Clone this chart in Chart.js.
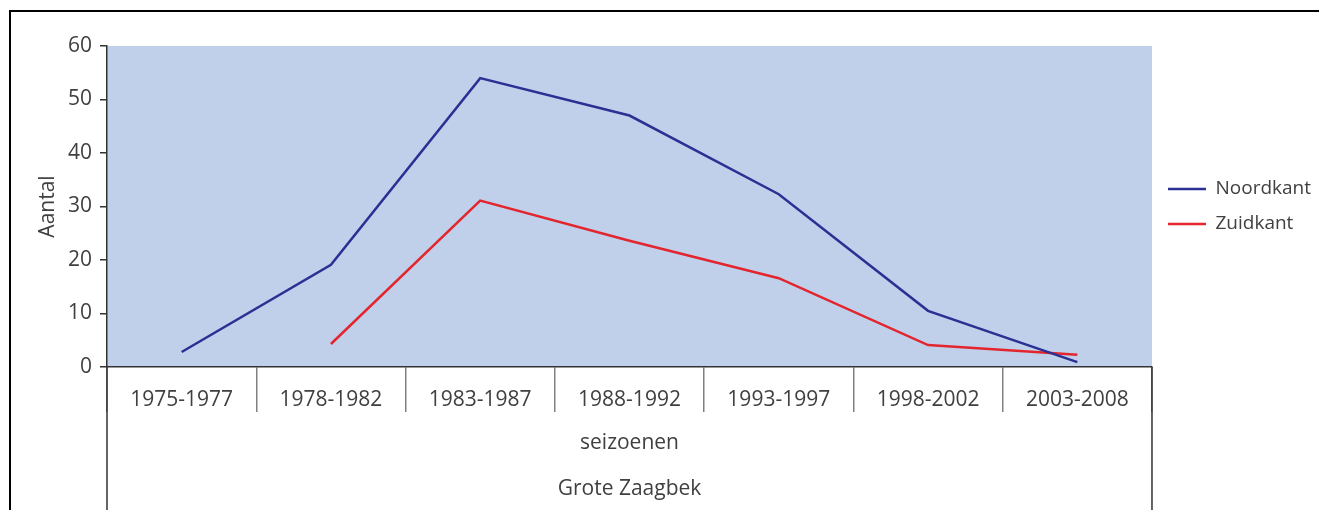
<!DOCTYPE html>
<html>
<head>
<meta charset="utf-8">
<script src="https://cdn.jsdelivr.net/npm/chart.js@4.4.1/dist/chart.umd.min.js"></script>
<style>
  html, body { margin: 0; padding: 0; background: #fff; }
  #frame {
    position: absolute; left: 9px; top: 10px;
    width: 1310px; height: 500px;
    border-left: 2px solid #000; border-top: 2px solid #000;
  }
  #wrap { position: absolute; left: 0; top: 0; width: 1308px; height: 498px; }
</style>
</head>
<body>
<div id="frame"><div id="wrap"><canvas id="myChart"></canvas></div></div>
<script>
let seizoenen = ['1975-1977', '1978-1982', '1983-1987', '1988-1992', '1993-1997', '1998-2002', '2003-2008']
let noordkant = [2.8, 19.1, 54.0, 47.0, 32.3, 10.5, 0.9]
let zuidkant = [null, 4.3, 31.1, 23.6, 16.6, 4.1, 2.3]
let yTicks = [0, 10, 20, 30, 40, 50, 60]

let textColor = '#404040'
let fontFam = '"Open Sans", "DejaVu Sans", sans-serif'

// lange lijnen links en rechts onder de as
let edgeLines = {
  id: 'edgeLines',
  afterDraw(chart) {
    let x = chart.scales.x
    let c = chart.ctx
    c.save()
    c.strokeStyle = '#333'
    c.lineWidth = 1.5
    c.beginPath()
    c.moveTo(x.left, chart.chartArea.bottom)
    c.lineTo(x.left, chart.height)
    c.moveTo(x.right, chart.chartArea.bottom)
    c.lineTo(x.right, chart.height)
    c.stroke()
    c.restore()
  }
}

let plotBg = {
  id: 'plotBg',
  beforeDraw(chart) {
    let a = chart.chartArea
    chart.ctx.save()
    chart.ctx.fillStyle = '#c0d0eb'
    chart.ctx.fillRect(a.left, a.top, a.right - a.left, a.bottom - a.top)
    chart.ctx.restore()
  }
}

var ctx = document.getElementById('myChart')
var myLineChart = new Chart(ctx, {
  type: 'line',
  data: {
    labels: seizoenen,
    datasets: [{
      label: 'Noordkant',
      data: noordkant,
      borderColor: '#2b3092',
      backgroundColor: '#2b3092',
      borderWidth: 2.5,
      pointRadius: 0,
      tension: 0
    }, {
      label: 'Zuidkant',
      data: zuidkant,
      borderColor: '#e3262e',
      backgroundColor: '#e3262e',
      borderWidth: 2.5,
      pointRadius: 0,
      tension: 0
    }]
  },
  plugins: [plotBg, edgeLines],
  options: {
    responsive: true,
    maintainAspectRatio: false,
    animation: false,
    layout: { padding: { top: 34, left: 0, right: -2, bottom: 0 } },
    plugins: {
      tooltip: { enabled: false },
      legend: {
        position: 'right',
        fullSize: false,
        labels: {
          usePointStyle: true,
          pointStyle: 'line',
          pointStyleWidth: 38,
          padding: 16,
          color: textColor,
          font: { family: fontFam, size: 19 }
        }
      }
    },
    scales: {
      x: {
        offset: true,
        afterFit: function(scale) { scale.height = 143 },
        border: { color: '#333', width: 1.5 },
        grid: {
          offset: true,
          drawOnChartArea: false,
          tickLength: 45,
          color: '#808080',
          lineWidth: 1.5
        },
        ticks: {
          padding: -25,
          color: textColor,
          maxRotation: 0,
          font: { family: fontFam, size: 21 }
        },
        title: {
          display: true,
          text: ['seizoenen', 'Grote Zaagbek'],
          color: textColor,
          padding: { top: 0, bottom: -2 },
          font: { family: fontFam, size: 21, lineHeight: 2.19 }
        }
      },
      y: {
        min: 0,
        max: 60,
        afterFit: function(scale) { scale.width = 96 },
        afterBuildTicks: function(scale) { scale.ticks = yTicks.map(v => ({ value: v })) },
        border: { color: '#333', width: 1.5 },
        grid: {
          drawOnChartArea: false,
          tickLength: 7,
          color: '#333',
          lineWidth: 1.5
        },
        ticks: {
          padding: 8,
          color: textColor,
          font: { family: fontFam, size: 21 }
        },
        title: {
          display: true,
          text: 'Aantal',
          color: textColor,
          padding: { top: 24, bottom: 0 },
          font: { family: fontFam, size: 21 }
        }
      }
    }
  }
})
</script>
</body>
</html>
